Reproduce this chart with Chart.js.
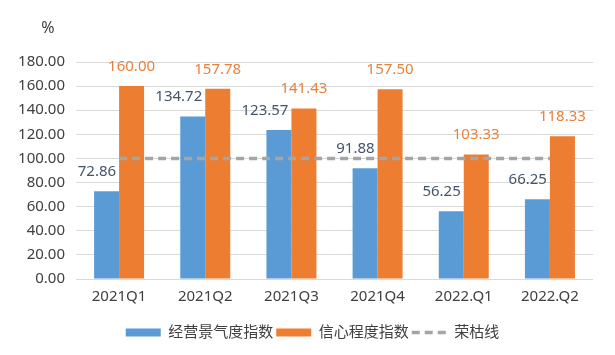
<!DOCTYPE html>
<html>
<head>
<meta charset="utf-8">
<script src="https://cdn.jsdelivr.net/npm/chart.js@4.4.1/dist/chart.umd.min.js"></script>
<style>
html,body{margin:0;padding:0;background:#fff;}
#wrap{width:615px;height:355px;}
</style>
</head>
<body>
<div id="wrap"><canvas id="c" width="615" height="355"></canvas></div>
<script>
const categories = ['2021Q1','2021Q2','2021Q3','2021Q4','2022.Q1','2022.Q2'];
const businessIndex = [72.86, 134.72, 123.57, 91.88, 56.25, 66.25];
const confidenceIndex = [160.00, 157.78, 141.43, 157.50, 103.33, 118.33];
const boomLine = [100, 100, 100, 100, 100, 100];
const seriesNames = ['经营景气度指数', '信心程度指数', '荣枯线'];
const unitLabel = '%';

const FONT = "'Noto Sans', 'Noto Sans CJK SC', sans-serif";
const TXT = '#404040';
const LINE_COLOR = '#A5A5A5';
const LINE_DASH = [8, 5];

const labelPlugin = {
  id: 'barLabels',
  afterDatasetsDraw(chart) {
    const ctx = chart.ctx;
    ctx.save();
    ctx.font = '15px ' + FONT;
    ctx.textBaseline = 'middle';
    [0, 1].forEach(di => {
      const meta = chart.getDatasetMeta(di);
      const vals = chart.data.datasets[di].data;
      meta.data.forEach((el, i) => {
        const txt = vals[i].toFixed(2);
        if (di === 0) {
          ctx.fillStyle = '#44546A';
          ctx.textAlign = 'right';
          ctx.fillText(txt, el.x + el.width / 2 - 3, el.y - 19.5);
        } else {
          ctx.fillStyle = '#E8813C';
          ctx.textAlign = 'center';
          ctx.fillText(txt, el.x, el.y - 19.5);
        }
      });
    });
    ctx.fillStyle = TXT;
    ctx.textAlign = 'center';
    ctx.font = '16px ' + FONT;
    ctx.fillText(unitLabel, 48, 28);
    ctx.restore();
  }
};

new Chart(document.getElementById('c'), {
  data: {
    labels: categories,
    datasets: [
      {
        type: 'bar', label: seriesNames[0], data: businessIndex,
        backgroundColor: '#5B9BD5', borderWidth: 0, pointStyle: 'rect', order: 1,
        categoryPercentage: 0.58, barPercentage: 1.0
      },
      {
        type: 'bar', label: seriesNames[1], data: confidenceIndex,
        backgroundColor: '#ED7D31', borderWidth: 0, pointStyle: 'rect', order: 1,
        categoryPercentage: 0.58, barPercentage: 1.0
      },
      {
        type: 'line', label: seriesNames[2], data: boomLine,
        borderColor: LINE_COLOR, backgroundColor: LINE_COLOR, borderWidth: 3.5,
        borderDash: LINE_DASH, pointRadius: 0, pointHoverRadius: 0, pointStyle: 'line',
        fill: false, order: 0
      }
    ]
  },
  options: {
    responsive: false,
    animation: false,
    devicePixelRatio: 1,
    layout: { padding: { top: 62, left: 10, right: 0, bottom: 5 } },
    plugins: {
      tooltip: { enabled: false },
      legend: {
        position: 'bottom',
        labels: {
          usePointStyle: true,
          pointStyleWidth: 35,
          boxHeight: 8,
          padding: 3,
          color: TXT,
          font: { size: 15, family: FONT },
          sort: (a, b) => a.datasetIndex - b.datasetIndex,
          generateLabels: chart => {
            const items = Chart.defaults.plugins.legend.labels.generateLabels(chart);
            items.forEach(it => {
              if (it.datasetIndex === 2) {
                it.lineDash = LINE_DASH;
                it.lineWidth = 3.5;
                it.strokeStyle = LINE_COLOR;
                it.fillStyle = LINE_COLOR;
                it.pointStyle = 'line';
              } else {
                it.lineWidth = 0;
                it.pointStyle = 'rect';
              }
            });
            return items;
          }
        }
      }
    },
    scales: {
      x: {
        grid: { display: false, drawTicks: false },
        border: { display: false },
        ticks: { color: TXT, font: { size: 15, family: FONT }, padding: 9, maxRotation: 0 },
        afterFit: s => { s.height = 43; }
      },
      y: {
        min: 0, max: 180,
        grid: { color: '#D9D9D9', lineWidth: 1, drawTicks: false },
        border: { display: false },
        ticks: {
          stepSize: 20, color: TXT, padding: 11,
          font: { size: 15, family: FONT },
          callback: v => Number(v).toFixed(2)
        },
        afterFit: s => { s.width = 66; }
      },
      yRight: {
        position: 'right',
        display: true,
        grid: { display: false, drawTicks: false },
        border: { display: false },
        ticks: { display: false },
        afterFit: s => { s.width = 22; }
      }
    }
  },
  plugins: [labelPlugin]
});
</script>
</body>
</html>
